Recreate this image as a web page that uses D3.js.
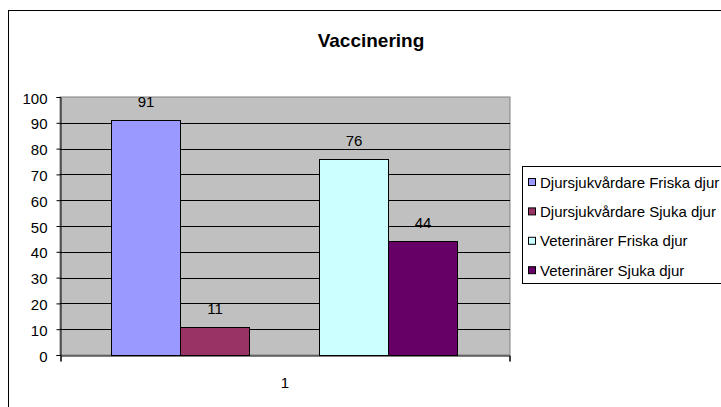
<!DOCTYPE html>
<html><head><meta charset="utf-8">
<script src="https://cdn.jsdelivr.net/npm/d3@7"></script>
<style>body{margin:0;background:#fff}svg{display:block;font-family:"Liberation Sans",Arial,sans-serif}</style>
</head><body><svg id="c" width="721" height="407"></svg>
<script>
const title = "Vaccinering";
const categories = ["1"];
const seriesNames = ["Djursjukvårdare Friska djur","Djursjukvårdare Sjuka djur","Veterinärer Friska djur","Veterinärer Sjuka djur"];
const seriesValues = [91, 11, 76, 44];
const seriesColors = ["#9999FF","#993366","#CCFFFF","#660066"];
const yTicks = [0,10,20,30,40,50,60,70,80,90,100];

const FONT = "Liberation Sans, Arial, sans-serif";
const svg = d3.select("#c");
svg.append("rect").attr("x",8.5).attr("y",10.5).attr("width",730).attr("height",410)
  .attr("fill","#fff").attr("stroke","#000").attr("stroke-width",1);

const pl=60, pr=510, pt=97, pb=355;
const y = d3.scaleLinear().domain([0,100]).range([pb,pt]);
const x0 = d3.scaleBand().domain(categories).range([pl,pr]);

svg.append("rect").attr("x",pl).attr("y",pt).attr("width",pr-pl).attr("height",pb-pt)
  .attr("fill","#C0C0C0").attr("stroke","#808080").attr("stroke-width",1);

svg.append("g").selectAll("line").data(yTicks.filter(d=>d>0 && d<100)).join("line")
  .attr("x1",pl).attr("x2",pr).attr("y1",d=>Math.round(y(d))+0.5).attr("y2",d=>Math.round(y(d))+0.5)
  .attr("stroke","#000").attr("stroke-width",1);

const barX = [111,180,319,388];
const bw = 69;
const xs = d3.scaleOrdinal().domain(d3.range(4)).range(barX);

svg.append("g").selectAll("rect").data(seriesValues).join("rect")
  .attr("x",(d,i)=>xs(i)+0.5).attr("y",d=>Math.round(y(d))+0.5)
  .attr("width",bw).attr("height",d=>Math.round(pb-y(d)))
  .attr("fill",(d,i)=>seriesColors[i]).attr("stroke","#000").attr("stroke-width",1);

svg.append("g").selectAll("text").data(seriesValues).join("text")
  .attr("x",(d,i)=>xs(i)+bw/2+0.5).attr("y",d=>y(d)-13)
  .attr("text-anchor","middle").attr("font-size",15).attr("fill","#000").text(d=>d);

const ya = d3.axisLeft(y).tickValues(yTicks).tickSize(4).tickPadding(9);
const gy = svg.append("g").attr("transform",`translate(${pl+0.5},0)`).call(ya);
gy.select(".domain").attr("stroke","#000");
gy.selectAll(".tick line").attr("stroke","#000");
gy.selectAll("text").attr("font-size",15).attr("fill","#000").attr("font-family",FONT).attr("dy","0.4em");

const xa = d3.axisBottom(d3.scaleLinear().domain([0,1]).range([pl,pr-1])).tickValues([0,1]).tickSize(6).tickFormat("");
const gx = svg.append("g").attr("transform",`translate(0.5,${pb+0.5})`).call(xa);
gx.select(".domain").attr("stroke","#000");
gx.selectAll(".tick line").attr("stroke","#000");
svg.append("text").attr("x",x0(categories[0])+x0.bandwidth()/2).attr("y",388)
  .attr("text-anchor","middle").attr("font-size",15).text(categories[0]);

svg.append("text").attr("x",371).attr("y",47).attr("text-anchor","middle")
  .attr("font-size",19).attr("font-weight","bold").text(title);

const lg = svg.append("g");
lg.append("rect").attr("x",522.5).attr("y",166.5).attr("width",220).attr("height",117)
  .attr("fill","#fff").attr("stroke","#000");
const items = lg.selectAll("g.it").data(seriesNames).join("g").attr("class","it")
  .attr("transform",(d,i)=>`translate(0,${182+i*29.4})`);
items.append("rect").attr("x",528.5).attr("y",-3.5).attr("width",7).attr("height",7)
  .attr("fill",(d,i)=>seriesColors[i]).attr("stroke","#000");
items.append("text").attr("x",540).attr("y",5.5).attr("font-size",15).text(d=>d);
</script></body></html>
